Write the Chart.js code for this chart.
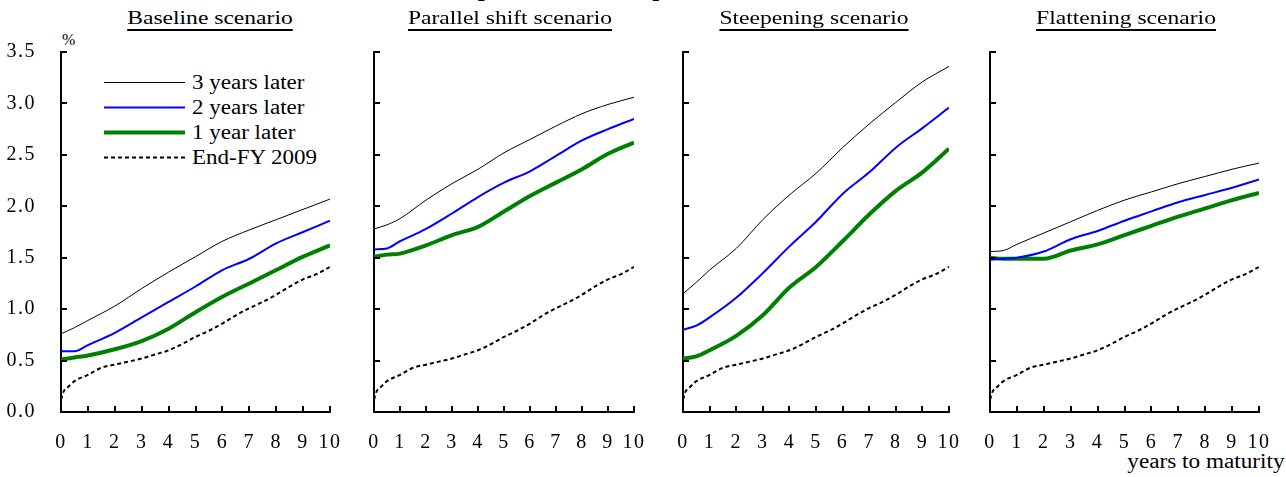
<!DOCTYPE html>
<html>
<head>
<meta charset="utf-8">
<script src="https://cdn.jsdelivr.net/npm/chart.js@4.4.1/dist/chart.umd.min.js"></script>
<style>
  html, body { margin: 0; padding: 0; background: #fff; }
  body { width: 1286px; height: 477px; position: relative; overflow: hidden; font-family: 'Liberation Serif', 'Times New Roman', serif; color: #000; }
  canvas { position: absolute; top: 0; }
  .ptitle { position: absolute; width: 320px; text-align: center; font-size: 19px; line-height: 20px; top: 8px;
            transform: scaleX(1.24); transform-origin: center top;
            text-decoration: underline; text-decoration-thickness: 1.5px; text-underline-offset: 5px; white-space: nowrap; }
  .maintitle { position: absolute; left: 256px; width: 800px; text-align: center; top: -24px; font-size: 25px; line-height: 24px; font-weight: bold; white-space: nowrap; }
  #legend { position: absolute; left: 104px; top: 70px; }
  .lrow { display: flex; align-items: center; height: 25px; }
  .lrow svg { width: 81px; height: 25px; display: block; flex: none; }
  .lrow span { margin-left: 7px; font-size: 20px; line-height: 25px; white-space: nowrap; display: inline-block; transform: scaleX(1.15); transform-origin: left center; }
  #pct { position: absolute; left: 62px; top: 32px; font-size: 16px; line-height: 16px; }
  #xlab { position: absolute; right: 1px; top: 451px; font-size: 20px; line-height: 20px; white-space: nowrap; transform: scaleX(1.16); transform-origin: right top; }
</style>
</head>
<body>
<div class="maintitle">Chart 30: Upward Shift in Spot Rate Curves in Scenarios</div>
<div id="pct">%</div>
<div id="xlab">years to maturity</div>
<div id="legend"></div>

<script>
// ---------------- DATA ----------------
const scenarioTitles = ['Baseline scenario', 'Parallel shift scenario', 'Steepening scenario', 'Flattening scenario'];
const seriesLabels = ['3 years later', '2 years later', '1 year later', 'End-FY 2009'];
const xTickLabels = ['0','1','2','3','4','5','6','7','8','9','10'];
const yTickLabels = ['0.0','0.5','1.0','1.5','2.0','2.5','3.0','3.5'];

const maturities   = [0, 0.5, 1, 2, 3, 4, 5, 6, 7, 8, 9, 10];
const fyMaturities = [0, 0.1, 0.25, 0.5, 1, 1.5, 2, 2.5, 3, 3.5, 4, 4.5, 5, 5.5, 6, 6.5, 7, 7.5, 8, 8.5, 9, 9.5, 10];
const endFY2009    = [0.12, 0.2, 0.24, 0.30, 0.36, 0.43, 0.46, 0.49, 0.52, 0.56, 0.60, 0.66, 0.73, 0.79, 0.86, 0.94, 1.01, 1.07, 1.14, 1.22, 1.29, 1.34, 1.41];

const baseline3y = [0.76, 0.82, 0.89, 1.03, 1.20, 1.36, 1.51, 1.66, 1.77, 1.87, 1.97, 2.07];
const baseline2y = [0.59, 0.59, 0.65, 0.77, 0.92, 1.07, 1.22, 1.38, 1.49, 1.64, 1.75, 1.86];
const baseline1y = [0.51, 0.53, 0.55, 0.61, 0.69, 0.81, 0.97, 1.12, 1.25, 1.38, 1.51, 1.62];

const parallel3y = [1.78, 1.82, 1.88, 2.06, 2.22, 2.36, 2.52, 2.65, 2.78, 2.90, 2.99, 3.06];
const parallel2y = [1.58, 1.59, 1.66, 1.78, 1.93, 2.09, 2.23, 2.34, 2.49, 2.64, 2.75, 2.85];
const parallel1y = [1.51, 1.53, 1.54, 1.62, 1.72, 1.80, 1.95, 2.10, 2.23, 2.36, 2.51, 2.62];

const steepening3y = [1.15, 1.26, 1.38, 1.59, 1.87, 2.11, 2.32, 2.57, 2.80, 3.01, 3.21, 3.36];
const steepening2y = [0.80, 0.84, 0.92, 1.11, 1.35, 1.61, 1.85, 2.12, 2.33, 2.57, 2.76, 2.96];
const steepening1y = [0.52, 0.54, 0.60, 0.74, 0.94, 1.21, 1.41, 1.66, 1.92, 2.15, 2.33, 2.56];

const flattening3y = [1.56, 1.57, 1.63, 1.74, 1.85, 1.96, 2.06, 2.14, 2.22, 2.29, 2.36, 2.42];
const flattening2y = [1.48, 1.49, 1.50, 1.56, 1.68, 1.76, 1.86, 1.95, 2.04, 2.11, 2.18, 2.26];
const flattening1y = [1.50, 1.49, 1.49, 1.49, 1.57, 1.63, 1.72, 1.81, 1.90, 1.98, 2.06, 2.13];

// ---------------- STYLES / LAYOUT ----------------
const seriesStyles = [
  { color: '#000000', width: 1, dash: [] },
  { color: '#0000ff', width: 2, dash: [] },
  { color: '#008000', width: 4, dash: [] },
  { color: '#000000', width: 2, dash: [4, 3] }
];
// desired plot-area edges (page pixels)
const panels = [
  { title: scenarioTitles[0], s: [baseline3y, baseline2y, baseline1y],       x0: 61,  x1: 330,  axisW: 61, showY: true,  titleX: 210 },
  { title: scenarioTitles[1], s: [parallel3y, parallel2y, parallel1y],       x0: 374, x1: 634,  axisW: 14, showY: false, titleX: 510 },
  { title: scenarioTitles[2], s: [steepening3y, steepening2y, steepening1y], x0: 683, x1: 949,  axisW: 14, showY: false, titleX: 814 },
  { title: scenarioTitles[3], s: [flattening3y, flattening2y, flattening1y], x0: 990, x1: 1259, axisW: 14, showY: false, titleX: 1126 }
];
const PLOT_TOP = 52, PLOT_BOTTOM = 412;
const FONT = { family: "'Liberation Serif', 'Times New Roman', serif", size: 20 };

const pairs = (xs, ys) => xs.map((x, i) => ({ x: x, y: ys[i] }));

const inwardTicks = {
  id: 'inwardTicks',
  beforeDraw(chart) { try { chart.ctx.letterSpacing = '1.5px'; } catch (e) {} },
  afterDraw(chart) {
    const ctx = chart.ctx, a = chart.chartArea, xs = chart.scales.x, ys = chart.scales.y;
    ctx.save();
    ctx.strokeStyle = '#000';
    ctx.lineWidth = 2;
    ctx.beginPath();
    xs.ticks.forEach(t => {
      const p = Math.round(xs.getPixelForValue(t.value));
      ctx.moveTo(p, a.bottom); ctx.lineTo(p, a.bottom - 6);
    });
    ys.ticks.forEach(t => {
      const p = Math.round(ys.getPixelForValue(t.value));
      ctx.moveTo(a.left, p); ctx.lineTo(a.left + 6, p);
    });
    ctx.stroke();
    ctx.restore();
  }
};

function buildChart(cv, pn, pad) {
  const datasets = [0, 1, 2].map(k => ({
    label: seriesLabels[k],
    data: pairs(maturities, pn.s[k]),
    borderColor: seriesStyles[k].color,
    borderWidth: seriesStyles[k].width,
    borderDash: seriesStyles[k].dash,
    pointRadius: 0,
    cubicInterpolationMode: 'monotone',
    fill: false
  }));
  datasets.push({
    label: seriesLabels[3],
    data: pairs(fyMaturities, endFY2009),
    borderColor: seriesStyles[3].color,
    borderWidth: seriesStyles[3].width,
    borderDash: seriesStyles[3].dash,
    pointRadius: 0,
    cubicInterpolationMode: 'monotone',
    fill: false
  });
  return new Chart(cv, {
    type: 'line',
    data: { datasets },
    plugins: [inwardTicks],
    options: {
      responsive: false,
      maintainAspectRatio: false,
      animation: false,
      events: [],
      layout: { padding: pad },
      plugins: { legend: { display: false }, tooltip: { enabled: false }, title: { display: false } },
      scales: {
        x: {
          type: 'linear', min: 0, max: 10,
          grid: { display: false },
          border: { display: true, color: '#000', width: 2 },
          ticks: { stepSize: 1, color: '#000', font: FONT, padding: 11, maxRotation: 0, autoSkip: false,
                   callback: (v) => xTickLabels[Math.round(v)] },
          afterFit: (s) => { s.height = 50; }
        },
        y: {
          type: 'linear', min: 0, max: 3.5,
          grid: { display: false },
          border: { display: true, color: '#000', width: 2 },
          ticks: { display: pn.showY, stepSize: 0.5, color: '#000', font: FONT, padding: 17, autoSkip: false,
                   callback: (v) => yTickLabels[Math.round(v * 2)] },
          afterFit: (s) => { s.width = pn.axisW; }
        }
      }
    }
  });
}

panels.forEach((pn) => {
  const t = document.createElement('div');
  t.className = 'ptitle';
  t.style.left = (pn.titleX - 160) + 'px';
  t.textContent = pn.title;
  document.body.appendChild(t);

  const W = pn.axisW + (pn.x1 - pn.x0) + 15;
  // first pass: measure plot area
  let cv = document.createElement('canvas');
  cv.width = W; cv.height = 477;
  document.body.appendChild(cv);
  const pad = { left: 0, right: 15, top: PLOT_TOP, bottom: 15 };
  let chart = buildChart(cv, pn, Object.assign({}, pad));
  let ca = chart.chartArea;
  const dw = (pn.x1 - pn.x0) - (ca.right - ca.left);
  pad.top += PLOT_TOP - ca.top;
  pad.bottom += ca.bottom - PLOT_BOTTOM;
  chart.destroy();
  cv.remove();

  // second pass: final chart with corrected size
  cv = document.createElement('canvas');
  cv.width = Math.round(W + dw); cv.height = 477;
  document.body.appendChild(cv);
  chart = buildChart(cv, pn, Object.assign({}, pad));
  ca = chart.chartArea;
  cv.style.left = (pn.x0 - ca.left) + 'px';
});

// legend (HTML, built from series labels and styles)
const lg = document.getElementById('legend');
seriesLabels.forEach((lab, k) => {
  const st = seriesStyles[k];
  const row = document.createElement('div');
  row.className = 'lrow';
  row.innerHTML = '<svg viewBox="0 0 81 25"><line x1="0" y1="12.5" x2="81" y2="12.5" stroke="' + st.color +
    '" stroke-width="' + st.width + '"' + (st.dash.length ? ' stroke-dasharray="' + st.dash.join(',') + '"' : '') +
    '/></svg><span>' + lab + '</span>';
  lg.appendChild(row);
});
</script>
</body>
</html>
